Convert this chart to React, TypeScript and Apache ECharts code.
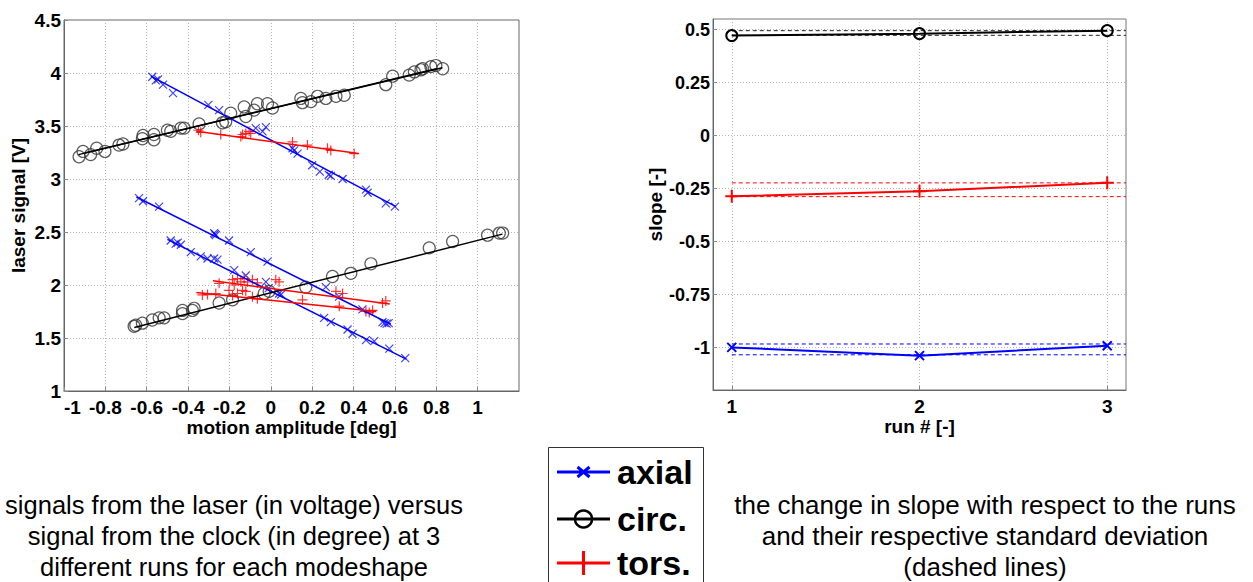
import React, { useEffect, useRef } from 'react';
import * as echarts from 'echarts';

const FONT = '"Liberation Sans", Arial, Helvetica, sans-serif';

// ---------- left plot: laser signal vs motion amplitude ----------
const axialRun1: number[][] = [[-0.573,3.965],[-0.556,3.93],[-0.545,3.94],[-0.521,3.89],[-0.473,3.81],[-0.302,3.70],[-0.25,3.65],[-0.073,3.48],[-0.04,3.45],[-0.024,3.49],[0.105,3.29],[0.113,3.27],[0.129,3.24],[0.20,3.13],[0.237,3.07],[0.28,3.04],[0.29,3.03],[0.347,3.0],[0.46,2.90],[0.468,2.87],[0.556,2.77],[0.60,2.74]];
const axialRun2: number[][] = [[-0.637,2.82],[-0.618,2.79],[-0.54,2.74],[-0.274,2.49],[-0.266,2.47],[-0.27,2.48],[-0.202,2.42],[-0.097,2.31],[-0.016,2.22],[0.266,1.98],[0.33,1.89],[0.443,1.77],[0.54,1.65],[0.55,1.64],[0.56,1.635],[0.57,1.64]];
const axialRun3: number[][] = [[-0.484,2.42],[-0.46,2.39],[-0.45,2.40],[-0.435,2.38],[-0.387,2.31],[-0.339,2.27],[-0.306,2.25],[-0.274,2.25],[-0.258,2.24],[-0.177,2.14],[-0.121,2.09],[-0.024,2.03],[-0.01,1.97],[0.04,1.92],[0.05,1.91],[0.258,1.69],[0.29,1.65],[0.371,1.58],[0.395,1.54],[0.46,1.48],[0.5,1.47],[0.573,1.40],[0.65,1.31]];

const circRun1: number[][] = [[-0.927,3.21],[-0.871,3.23],[-0.802,3.26],[-0.715,3.33],[-0.618,3.41],[-0.565,3.37],[-0.484,3.45],[-0.419,3.48],[-0.234,3.53],[-0.194,3.62],[-0.121,3.59],[-0.065,3.71],[0.008,3.67],[0.153,3.72],[0.226,3.78],[0.315,3.78],[0.556,3.89],[0.669,3.98],[0.726,4.03],[0.774,4.06],[0.831,4.04]];
const circRun2: number[][] = [[-0.908,3.26],[-0.842,3.29],[-0.734,3.32],[-0.621,3.38],[-0.565,3.42],[-0.5,3.46],[-0.435,3.48],[-0.347,3.52],[-0.218,3.54],[-0.129,3.68],[-0.081,3.65],[-0.016,3.71],[0.145,3.76],[0.194,3.73],[0.266,3.76],[0.355,3.79],[0.589,3.97],[0.694,4.01],[0.734,4.04],[0.798,4.07]];
const circRun3: number[][] = [[-0.661,1.61],[-0.653,1.62],[-0.621,1.64],[-0.573,1.67],[-0.54,1.69],[-0.516,1.69],[-0.427,1.73],[-0.427,1.76],[-0.379,1.76],[-0.371,1.78],[-0.25,1.83],[-0.185,1.86],[-0.032,1.92],[-0.008,1.94],[0.169,1.98],[0.298,2.08],[0.387,2.11],[0.484,2.20],[0.766,2.35],[0.879,2.41],[1.048,2.47],[1.105,2.49],[1.121,2.49]];

const torsRun1: number[][] = [[-0.35,3.46],[-0.339,3.44],[-0.242,3.42],[-0.145,3.40],[-0.137,3.42],[-0.121,3.43],[-0.105,3.45],[-0.097,3.43],[0.105,3.35],[0.177,3.32],[0.274,3.29],[0.29,3.27],[0.403,3.24]];
const torsRun2: number[][] = [[-0.25,2.016],[-0.185,2.05],[-0.177,2.0],[-0.161,2.06],[-0.145,2.03],[-0.129,2.06],[-0.113,2.03],[-0.089,2.05],[-0.065,2.02],[0.024,2.05],[0.04,2.03],[0.315,1.94],[0.347,1.92],[0.54,1.83],[0.556,1.85]];
const torsRun3: number[][] = [[-0.331,1.906],[-0.306,1.91],[-0.266,1.92],[-0.202,1.95],[-0.185,1.9],[-0.161,1.92],[-0.137,1.95],[-0.121,1.94],[-0.089,1.89],[-0.065,1.87],[0.153,1.86],[0.331,1.80],[0.46,1.75],[0.476,1.74],[0.492,1.76]];

// fitted lines (end points)
const axialFit1: number[][] = [[-0.58,3.97],[0.605,2.74]];
const axialFit2: number[][] = [[-0.65,2.83],[0.58,1.63]];
const axialFit3: number[][] = [[-0.50,2.43],[0.655,1.30]];
const circFit1: number[][] = [[-0.93,3.23],[0.83,4.05]];
const circFit2: number[][] = [[-0.90,3.245],[0.80,4.04]];
const circFit3: number[][] = [[-0.66,1.60],[1.12,2.48]];
const torsFit1: number[][] = [[-0.36,3.45],[0.425,3.24]];
const torsFit2: number[][] = [[-0.28,2.04],[0.575,1.82]];
const torsFit3: number[][] = [[-0.36,1.93],[0.51,1.75]];

// ---------- right plot: slope per run ----------
const runs = [1, 2, 3];
const axialSlope = [-0.999, -1.038, -0.991];
const circSlope = [0.472, 0.481, 0.495];
const torsSlope = [-0.286, -0.263, -0.222];
const axialStd = [-0.983, -1.034];
const circStd = [0.495, 0.473];
const torsStd = [-0.223, -0.288];
const stdFrom = 1;
const stdTo = 3.1;

const slopeTicks = [-1, -0.75, -0.5, -0.25, 0, 0.25, 0.5];
const runTicks = [1, 2, 3];

const legendNames = ['axial', 'circ.', 'tors.'];
const captionLeft = 'signals from the laser (in voltage) versus\nsignal from the clock (in degree) at 3\ndifferent runs for each modeshape';
const captionRight = 'the change in slope with respect to the runs\nand their respective standard deviation\n(dashed lines)';

const BLUE = '#0000ff';
const RED = '#ff0000';
const BLACK = '#000000';
const CROSS = 'path://M0,0L10,10M10,0L0,10';
const PLUS = 'path://M5,0L5,10M0,5L10,5';

const fmt = (v: number) => String(parseFloat(Number(v).toFixed(4)));

const labelStyle = { color: '#000', fontSize: 19, fontWeight: 'bold', fontFamily: FONT, formatter: fmt, lineHeight: 15 };
const nameStyle = { color: '#000', fontSize: 19, fontWeight: 'bold', fontFamily: FONT };
const gridLine = { show: true, lineStyle: { type: [1, 2], color: '#b4b4b4', width: 1 } };
const axisLine = { show: true, onZero: false, lineStyle: { color: '#666', width: 1 } };

function scatter(data: number[][], symbol: string, color: string, size: number, opacity: number) {
  return {
    type: 'scatter', xAxisIndex: 0, yAxisIndex: 0, data, symbol, symbolSize: size, silent: true,
    itemStyle: { color: 'rgba(0,0,0,0)', borderColor: color, borderWidth: 1.2, opacity },
    z: 3,
  };
}
function fit(data: number[][], color: string, width: number) {
  return {
    type: 'line', xAxisIndex: 0, yAxisIndex: 0, data, showSymbol: false, symbol: 'none', silent: true,
    lineStyle: { color, width }, z: 4,
  };
}
function slopeLine(name: string, values: number[], symbol: string, color: string, size: number) {
  return {
    type: 'line', name, xAxisIndex: 1, yAxisIndex: 1, silent: true,
    data: runs.map((r, i) => [r, values[i]]),
    symbol, symbolSize: size, showSymbol: true,
    lineStyle: { color, width: 2 },
    itemStyle: { color: 'rgba(0,0,0,0)', borderColor: color, borderWidth: 2 },
    z: 5,
  };
}
function stdLine(v: number, color: string) {
  return {
    type: 'line', xAxisIndex: 1, yAxisIndex: 1, silent: true, symbol: 'none', showSymbol: false,
    data: [[stdFrom, v], [stdTo, v]],
    lineStyle: { color, width: 1, type: [4, 3] }, z: 4,
  };
}

function legendRow(y: number, color: string, label: string, marker: any[]) {
  return [
    { type: 'line', shape: { x1: 557, y1: y, x2: 610, y2: y }, style: { stroke: color, lineWidth: 3 } },
    ...marker,
    { type: 'text', x: 617, y, style: { text: label, fill: '#000', fontSize: 34, fontWeight: 'bold', fontFamily: FONT, verticalAlign: 'middle', align: 'left' } },
  ];
}

export default function App() {
  const ref = useRef<HTMLDivElement>(null);
  useEffect(() => {
    document.body.style.margin = '0';
    const chart = echarts.init(ref.current!, null, { renderer: 'svg' });
    const cx = 583.5;
    const r1 = 472, r2 = 519, r3 = 563;
    const option: any = {
      animation: false,
      backgroundColor: '#fff',
      grid: [
        { left: 64, top: 20, width: 455, height: 371, show: true, borderColor: '#666', borderWidth: 1, outerBoundsMode: 'none', containLabel: false },
        { left: 713, top: 19, width: 413, height: 371, show: true, borderColor: '#777', borderWidth: 1, outerBoundsMode: 'none', containLabel: false },
      ],
      xAxis: [
        {
          gridIndex: 0, type: 'value', min: -1, max: 1.2, interval: 0.2,
          name: 'motion amplitude [deg]', nameLocation: 'middle', nameGap: 27, nameTextStyle: nameStyle, nameMoveOverlap: false,
          axisLine, axisTick: { show: true, inside: true, length: 4, lineStyle: { color: '#888' } },
          axisLabel: { ...labelStyle, margin: 9, showMaxLabel: false, showMinLabel: true, alignMinLabel: 'left' },
          splitLine: gridLine,
        },
        {
          gridIndex: 1, type: 'value', min: 0.9, max: 3.1,
          name: 'run # [-]', nameLocation: 'middle', nameGap: 27, nameTextStyle: nameStyle, nameMoveOverlap: false,
          axisLine, axisTick: { show: true, inside: true, length: 4, customValues: runTicks, lineStyle: { color: '#888' } },
          axisLabel: { ...labelStyle, margin: 9, customValues: runTicks },
          splitLine: gridLine,
        },
      ],
      yAxis: [
        {
          gridIndex: 0, type: 'value', min: 1, max: 4.5, interval: 0.5,
          name: 'laser signal [V]', nameLocation: 'middle', nameGap: 36, nameTextStyle: nameStyle, nameMoveOverlap: false,
          axisLine, axisTick: { show: true, inside: true, length: 4, lineStyle: { color: '#888' } },
          axisLabel: { ...labelStyle, margin: 3 },
          splitLine: gridLine,
        },
        {
          gridIndex: 1, type: 'value', min: -1.2, max: 0.55,
          name: 'slope [-]', nameLocation: 'middle', nameGap: 48, nameTextStyle: nameStyle, nameMoveOverlap: false,
          axisLine, axisTick: { show: true, inside: true, length: 4, customValues: slopeTicks, lineStyle: { color: '#888' } },
          axisLabel: { ...labelStyle, fontSize: 18, margin: 3, customValues: slopeTicks },
          splitLine: gridLine,
        },
      ],
      series: [
        scatter(axialRun1, CROSS, BLUE, 8, 0.75),
        scatter(axialRun2, CROSS, BLUE, 8, 0.75),
        scatter(axialRun3, CROSS, BLUE, 8, 0.75),
        fit(axialFit1, BLUE, 1.5),
        fit(axialFit2, BLUE, 1.5),
        fit(axialFit3, BLUE, 1.5),
        scatter(circRun1, 'circle', '#333', 12, 0.8),
        scatter(circRun2, 'circle', '#333', 12, 0.8),
        scatter(circRun3, 'circle', '#333', 12, 0.8),
        fit(circFit1, BLACK, 1.5),
        fit(circFit2, BLACK, 1.5),
        fit(circFit3, BLACK, 1.5),
        scatter(torsRun1, PLUS, RED, 10, 0.8),
        scatter(torsRun2, PLUS, RED, 10, 0.8),
        scatter(torsRun3, PLUS, RED, 10, 0.8),
        fit(torsFit1, RED, 1.5),
        fit(torsFit2, RED, 1.5),
        fit(torsFit3, RED, 1.5),
        slopeLine(legendNames[0], axialSlope, CROSS, BLUE, 9),
        slopeLine(legendNames[1], circSlope, 'circle', BLACK, 11),
        slopeLine(legendNames[2], torsSlope, PLUS, RED, 13),
        ...axialStd.map(v => stdLine(v, BLUE)),
        ...circStd.map(v => stdLine(v, '#222')),
        ...torsStd.map(v => stdLine(v, RED)),
      ],
      graphic: [
        { type: 'text', x: 234, y: 489, style: { text: captionLeft, fill: '#000', fontSize: 25.5, fontFamily: FONT, align: 'center', verticalAlign: 'top', lineHeight: 31 } },
        { type: 'text', x: 985, y: 489, style: { text: captionRight, fill: '#000', fontSize: 26, fontFamily: FONT, align: 'center', verticalAlign: 'top', lineHeight: 31 } },
        { type: 'rect', shape: { x: 548.5, y: 447.5, width: 155, height: 160 }, style: { fill: '#fff', stroke: '#333', lineWidth: 1 } },
        ...legendRow(r1, BLUE, legendNames[0], [
          { type: 'line', shape: { x1: cx - 6, y1: r1 - 5, x2: cx + 6, y2: r1 + 5 }, style: { stroke: BLUE, lineWidth: 3 } },
          { type: 'line', shape: { x1: cx - 6, y1: r1 + 5, x2: cx + 6, y2: r1 - 5 }, style: { stroke: BLUE, lineWidth: 3 } },
        ]),
        ...legendRow(r2, BLACK, legendNames[1], [
          { type: 'circle', shape: { cx, cy: r2, r: 8.5 }, style: { fill: 'none', stroke: BLACK, lineWidth: 2.5 } },
        ]),
        ...legendRow(r3, RED, legendNames[2], [
          { type: 'line', shape: { x1: cx, y1: r3 - 12, x2: cx, y2: r3 + 12 }, style: { stroke: RED, lineWidth: 3 } },
        ]),
      ],
    };
    chart.setOption(option);
    return () => chart.dispose();
  }, []);
  return <div ref={ref} style={{ position: 'fixed', left: 0, top: 0, width: 1253, height: 582, background: '#fff' }} />;
}
